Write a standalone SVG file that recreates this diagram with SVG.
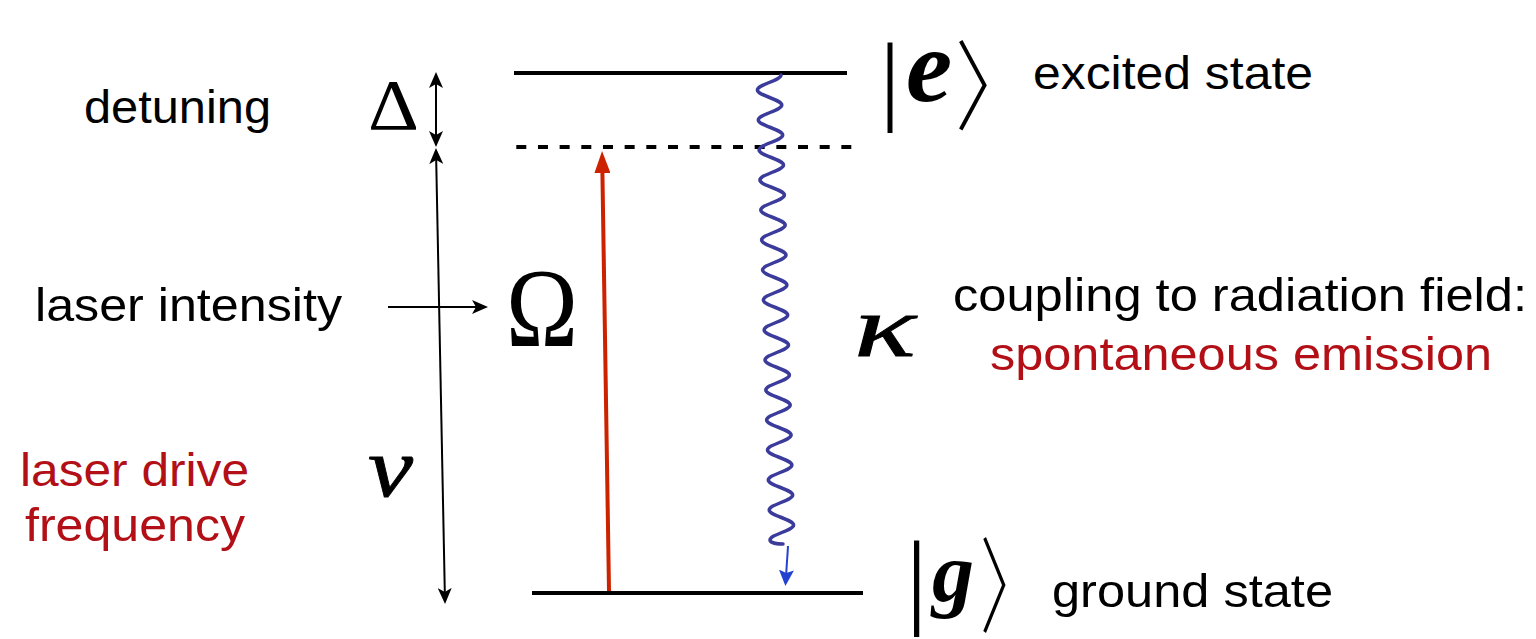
<svg xmlns="http://www.w3.org/2000/svg" width="1536" height="639" viewBox="0 0 1536 639">
<style>
.lbl{font-family:"Liberation Sans",Arial,sans-serif;font-size:46px;fill:#000}
.red{fill:#b20f16}
.math{font-family:"Liberation Serif","Times New Roman",serif;fill:#000}
.it{font-style:italic;stroke:#000;stroke-width:0.8}
.brk{font-family:"Noto Sans CJK JP","Noto Sans CJK SC",sans-serif;font-weight:300;fill:#000}
.lev{stroke:#000;stroke-width:4;fill:none}
.arr{stroke:#000;stroke-width:2;fill:none}
</style>
<defs>
<marker id="ah" viewBox="0 0 16 14" refX="14" refY="7" markerWidth="16" markerHeight="14" markerUnits="userSpaceOnUse" orient="auto-start-reverse">
<path d="M0,0 L16,7 L0,14 L4,7 z" fill="#000"/>
</marker>
<marker id="ahr" viewBox="0 0 22 16" refX="7" refY="8" markerWidth="22" markerHeight="16" markerUnits="userSpaceOnUse" orient="auto">
<path d="M0,0 L22,8 L0,16 z" fill="#cc2200"/>
</marker>
<marker id="ahb" viewBox="0 0 16 15" refX="10" refY="7.5" markerWidth="16" markerHeight="15" markerUnits="userSpaceOnUse" orient="auto">
<path d="M0,0 L16,7.5 L0,15 L3,7.5 z" fill="#2442d0"/>
</marker>
</defs>
<g id="levels">
<line id="excited-level" class="lev" x1="514" y1="73" x2="847" y2="73"/>
<line id="virtual-level" class="lev" x1="516.3" y1="147" x2="851.3" y2="147" stroke-dasharray="10 11.67"/>
<line id="ground-level" class="lev" x1="532" y1="593" x2="863" y2="593"/>
</g>
<g id="connectors">
<line id="delta-arrow" class="arr" x1="436" y1="74" x2="436" y2="145" marker-start="url(#ah)" marker-end="url(#ah)"/>
<line id="nu-arrow" class="arr" x1="436" y1="150" x2="445" y2="602" marker-start="url(#ah)" marker-end="url(#ah)"/>
<line id="intensity-arrow" class="arr" x1="388" y1="307" x2="486" y2="307" marker-end="url(#ah)"/>
<line id="laser-arrow" x1="609" y1="591" x2="602.3" y2="166" stroke="#cc2200" stroke-width="4" marker-end="url(#ahr)"/>
<path id="emission-wave" fill="none" stroke="#3b3b9c" stroke-width="3.5" stroke-linecap="round" d="M781,75 C781,80.5 757.4,84.5 757.4,90 C757.4,95.5 781.8,99.5 781.8,105 C781.8,110.5 758.3,114.5 758.3,120 C758.3,125.5 782.7,129.5 782.7,135 C782.7,140.5 759.1,144.5 759.1,150 C759.1,155.5 783.5,159.5 783.5,165 C783.5,170.5 759.9,174.5 759.9,180 C759.9,185.5 784.4,189.5 784.4,195 C784.4,200.5 760.8,204.5 760.8,210 C760.8,215.5 785.2,219.5 785.2,225 C785.2,230.5 761.6,234.5 761.6,240 C761.6,245.5 786,249.5 786,255 C786,260.5 762.5,264.5 762.5,270 C762.5,275.5 786.9,279.5 786.9,285 C786.9,290.5 763.3,294.5 763.3,300 C763.3,305.5 787.7,309.5 787.7,315 C787.7,320.5 764.1,324.5 764.1,330 C764.1,335.5 788.5,339.5 788.5,345 C788.5,350.5 765,354.5 765,360 C765,365.5 789.4,369.5 789.4,375 C789.4,380.5 765.8,384.5 765.8,390 C765.8,395.5 790.2,399.5 790.2,405 C790.2,410.5 766.6,414.5 766.6,420 C766.6,425.5 791.1,429.5 791.1,435 C791.1,440.5 767.5,444.5 767.5,450 C767.5,455.5 791.9,459.5 791.9,465 C791.9,470.5 768.3,474.5 768.3,480 C768.3,485.5 792.7,489.5 792.7,495 C792.7,500.5 769.2,504.5 769.2,510 C769.2,515.5 793.6,519.5 793.6,525 C793.6,530.5 770,534.5 770,540 C770,542.5 776,544 783,544"/>
<line id="emission-arrow" x1="788" y1="546" x2="785.8" y2="580" stroke="#2442d0" stroke-width="2" marker-end="url(#ahb)"/>
</g>
<g id="label-detuning"><text class="lbl" x="84" y="123" textLength="187" lengthAdjust="spacingAndGlyphs">detuning</text></g>
<g id="label-delta"><text class="math" x="368" y="129" font-size="72" textLength="51" lengthAdjust="spacingAndGlyphs">Δ</text></g>
<g id="label-intensity"><text class="lbl" x="35" y="321" textLength="307" lengthAdjust="spacingAndGlyphs">laser intensity</text></g>
<g id="label-omega"><text class="math" x="506" y="346" font-size="112" textLength="72" lengthAdjust="spacingAndGlyphs">Ω</text></g>
<g id="label-drive"><text class="lbl red" x="20" y="486" textLength="229" lengthAdjust="spacingAndGlyphs">laser drive</text><text class="lbl red" x="25" y="541" textLength="220" lengthAdjust="spacingAndGlyphs">frequency</text></g>
<g id="label-nu"><text class="math it" x="368" y="496" font-size="84" textLength="45" lengthAdjust="spacingAndGlyphs">ν</text></g>
<g id="label-kappa"><text class="math it" x="854" y="356" font-size="86" textLength="62" lengthAdjust="spacingAndGlyphs">κ</text></g>
<g id="label-coupling"><text class="lbl" x="953" y="311" textLength="574" lengthAdjust="spacingAndGlyphs">coupling to radiation field:</text><text class="lbl red" x="990" y="370" textLength="502" lengthAdjust="spacingAndGlyphs">spontaneous emission</text></g>
<g id="state-e"><text class="math" x="880" y="112" font-size="100">|</text><text class="math" x="906" y="101" font-size="104" font-weight="bold" font-style="italic">e</text><text class="brk" transform="translate(955,121.5) scale(0.82,1)" font-size="98">〉</text></g>
<g id="label-excited"><text class="lbl" x="1033" y="89" textLength="280" lengthAdjust="spacingAndGlyphs">excited state</text></g>
<g id="state-g"><text class="math" x="906" y="614" font-size="106">|</text><text class="math" x="932" y="601" font-size="84" font-weight="bold" font-style="italic">g</text><text class="brk" transform="translate(980,625) scale(0.62,1)" font-size="104">〉</text></g>
<g id="label-ground"><text class="lbl" x="1052" y="607" textLength="281" lengthAdjust="spacingAndGlyphs">ground state</text></g>
</svg>
